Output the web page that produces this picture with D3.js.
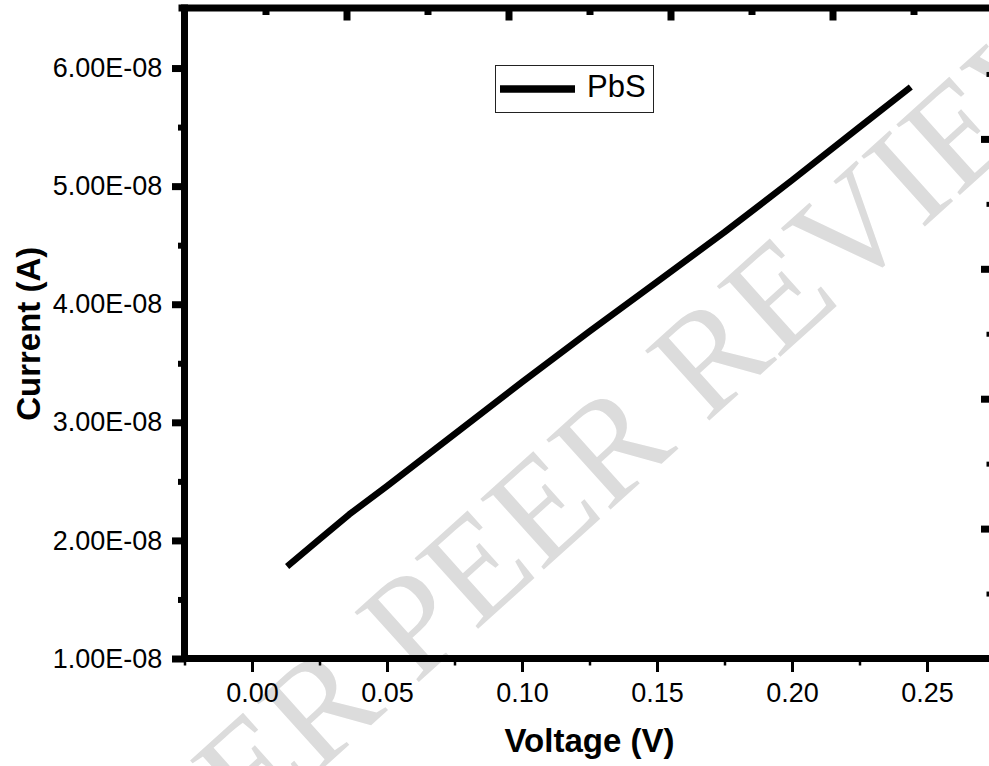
<!DOCTYPE html>
<html>
<head>
<meta charset="utf-8">
<script src="https://cdn.jsdelivr.net/npm/d3@7"></script>
<style>
  body { margin: 0; background: #fff; }
  svg { display: block; }
</style>
</head>
<body>
<div id="chart"></div>
<script>
// *** data ***
var voltage = [0.013, 0.025, 0.036, 0.050, 0.075, 0.100, 0.125, 0.150, 0.175, 0.200, 0.225, 0.244];
var current = [1.78e-8, 2.01e-8, 2.22e-8, 2.46e-8, 2.90e-8, 3.34e-8, 3.77e-8, 4.19e-8, 4.61e-8, 5.05e-8, 5.50e-8, 5.84e-8];

var xTicks = [0.00, 0.05, 0.10, 0.15, 0.20, 0.25];
var xTickLabels = ['0.00', '0.05', '0.10', '0.15', '0.20', '0.25'];
var xMinor = [-0.025, 0.025, 0.075, 0.125, 0.175, 0.225];

var yTicks = [1e-8, 2e-8, 3e-8, 4e-8, 5e-8, 6e-8];
var yTickLabels = ['1.00E-08', '2.00E-08', '3.00E-08', '4.00E-08', '5.00E-08', '6.00E-08'];
var yMinor = [1.5e-8, 2.5e-8, 3.5e-8, 4.5e-8, 5.5e-8];

// top and right frame carry their own 10-step ticks
var frameSteps = d3.range(1, 10);

var seriesName = 'PbS';
var xTitle = 'Voltage (V)';
var yTitle = 'Current (A)';
var watermark = 'UNDER PEER REVIEW';

(function () {
    "use strict";

    var W = 989, H = 766;
    var left = 184.5, right = 994.5, top = 9, bottom = 658.5;
    var font = '"Liberation Sans", Arial, sans-serif';

    var svg = d3.select('#chart').append('svg')
        .attr('width', W)
        .attr('height', H);

    svg.append('rect').attr('width', W).attr('height', H).attr('fill', '#fff');

    var x = d3.scaleLinear().domain([-0.025, 0.275]).range([left, right]);
    var y = d3.scaleLinear().domain([1e-8, 6.5e-8]).range([bottom, top]);
    var topX = d3.scaleLinear().domain([0, 10]).range([left, right]);
    var rightY = d3.scaleLinear().domain([0, 10]).range([bottom, top]);

    // watermark, behind everything
    svg.append('text')
        .attr('transform', 'translate(17,1044) rotate(-42)')
        .attr('font-family', '"Liberation Serif", "Times New Roman", serif')
        .attr('font-size', 145)
        .attr('fill', '#dcdcdc')
        .text(watermark);

    function strip(g) {
        g.select('.domain').remove();
        g.selectAll('text').attr('font-family', font).attr('fill', '#000');
    }

    // *** bottom axis ***
    svg.append('g')
        .attr('transform', 'translate(0,' + bottom + ')')
        .call(d3.axisBottom(x).tickValues(xMinor).tickSize(7).tickFormat(''))
        .call(strip)
        .selectAll('line').attr('stroke', '#000').attr('stroke-width', 2.5);

    var xa = svg.append('g')
        .attr('transform', 'translate(0,' + bottom + ')')
        .call(d3.axisBottom(x).tickValues(xTicks).tickSize(13.5).tickPadding(10.5)
            .tickFormat(function (d, i) { return xTickLabels[i]; }))
        .call(strip);
    xa.selectAll('line').attr('stroke', '#000').attr('stroke-width', 3);
    xa.selectAll('text').attr('font-size', 27);

    // *** left axis ***
    svg.append('g')
        .attr('transform', 'translate(' + left + ',0)')
        .call(d3.axisLeft(y).tickValues(yMinor).tickSize(6.5).tickFormat(''))
        .call(strip)
        .selectAll('line').attr('stroke', '#000').attr('stroke-width', 6);

    var ya = svg.append('g')
        .attr('transform', 'translate(' + left + ',0)')
        .call(d3.axisLeft(y).tickValues(yTicks).tickSize(12.5).tickPadding(9.7)
            .tickFormat(function (d, i) { return yTickLabels[i]; }))
        .call(strip);
    ya.selectAll('line').attr('stroke', '#000').attr('stroke-width', 7);
    ya.selectAll('text').attr('font-size', 27);

    // *** top frame ticks ***
    svg.append('g')
        .attr('transform', 'translate(0,' + top + ')')
        .call(d3.axisBottom(topX).tickValues(frameSteps).tickFormat('')
            .tickSize(0))
        .call(strip)
        .selectAll('.tick line')
        .attr('y2', function (d) { return d % 2 ? 6 : 11.5; })
        .attr('stroke', '#000').attr('stroke-width', 7);

    // *** right frame ticks ***
    svg.append('g')
        .attr('transform', 'translate(' + right + ',0)')
        .call(d3.axisLeft(rightY).tickValues(frameSteps).tickFormat('')
            .tickSize(0))
        .call(strip)
        .selectAll('.tick line')
        .attr('x2', function (d) { return d % 2 ? -8 : -13.5; })
        .attr('stroke', '#000')
        .attr('stroke-width', function (d) { return d % 2 ? 5 : 7; });

    // *** frame lines ***
    var frame = svg.append('g').attr('stroke', '#000').attr('stroke-width', 7);
    frame.append('line').attr('x1', left - 6).attr('x2', right + 4).attr('y1', top - 1).attr('y2', top - 1);
    frame.append('line').attr('x1', left - 3.5).attr('x2', right + 4).attr('y1', bottom).attr('y2', bottom);
    frame.append('line').attr('x1', left).attr('x2', left).attr('y1', top - 4.5).attr('y2', bottom + 3.5);
    frame.append('line').attr('x1', right).attr('x2', right).attr('y1', top - 4.5).attr('y2', bottom + 3.5);

    // *** curve ***
    var pts = voltage.map(function (v, i) { return [v, current[i]]; });
    svg.append('path')
        .datum(pts)
        .attr('fill', 'none')
        .attr('stroke', '#000')
        .attr('stroke-width', 6.5)
        .attr('stroke-linejoin', 'round')
        .attr('d', d3.line()
            .x(function (d) { return x(d[0]); })
            .y(function (d) { return y(d[1]); }));

    // *** legend ***
    var lg = svg.append('g').attr('transform', 'translate(495,65)');
    lg.append('rect')
        .attr('x', 0.5).attr('y', 0.5)
        .attr('width', 158).attr('height', 47)
        .attr('fill', '#fff')
        .attr('stroke', '#222').attr('stroke-width', 1);
    lg.append('line')
        .attr('x1', 5).attr('x2', 80).attr('y1', 24).attr('y2', 24)
        .attr('stroke', '#000').attr('stroke-width', 7.5);
    lg.append('text')
        .attr('x', 92).attr('y', 32)
        .attr('font-family', font).attr('font-size', 31)
        .text(seriesName);

    // *** titles ***
    svg.append('text')
        .attr('x', (left + right) / 2).attr('y', 751.5)
        .attr('text-anchor', 'middle')
        .attr('font-family', font).attr('font-size', 33).attr('font-weight', 'bold')
        .text(xTitle);

    svg.append('text')
        .attr('transform', 'translate(39.5,' + (top + bottom) / 2 + ') rotate(-90)')
        .attr('text-anchor', 'middle')
        .attr('font-family', font).attr('font-size', 33).attr('font-weight', 'bold')
        .text(yTitle);
})();
</script>
</body>
</html>
